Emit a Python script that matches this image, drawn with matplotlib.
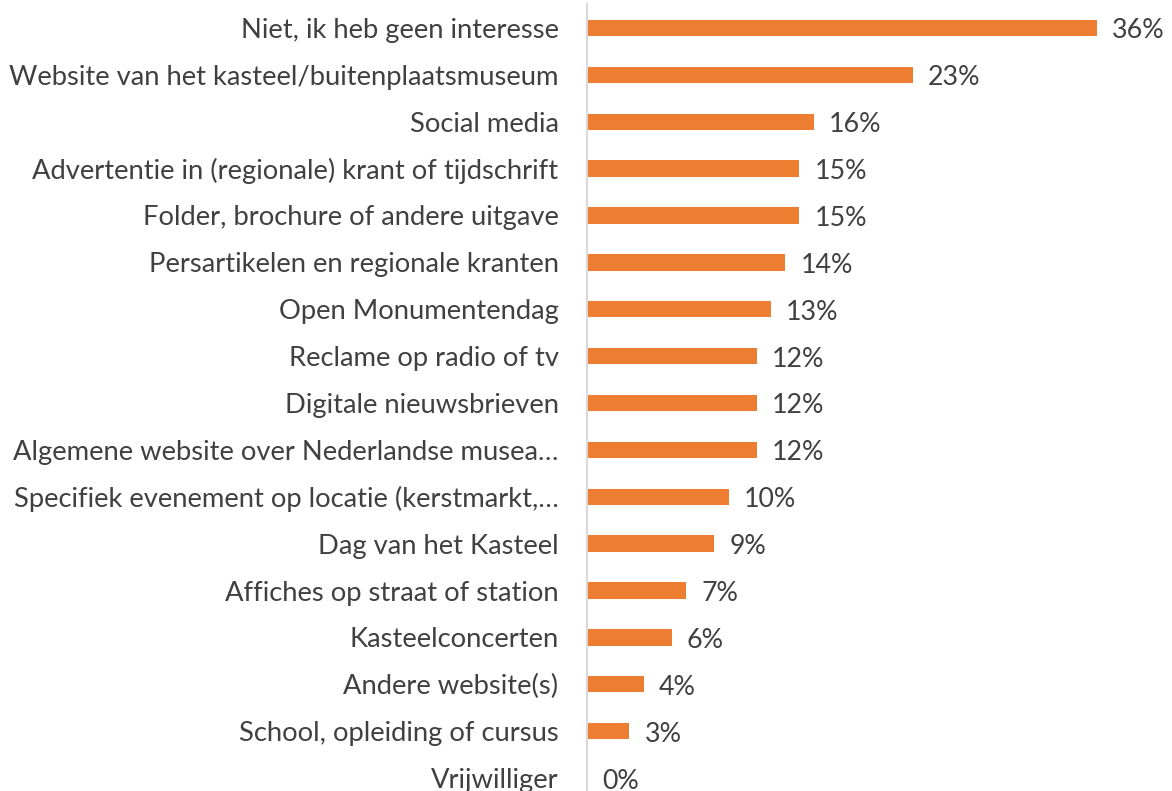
import matplotlib.pyplot as plt

categories = [
    "Niet, ik heb geen interesse",
    "Website van het kasteel/buitenplaatsmuseum",
    "Social media",
    "Advertentie in (regionale) krant of tijdschrift",
    "Folder, brochure of andere uitgave",
    "Persartikelen en regionale kranten",
    "Open Monumentendag",
    "Reclame op radio of tv",
    "Digitale nieuwsbrieven",
    "Algemene website over Nederlandse musea…",
    "Specifiek evenement op locatie (kerstmarkt,…",
    "Dag van het Kasteel",
    "Affiches op straat of station",
    "Kasteelconcerten",
    "Andere website(s)",
    "School, opleiding of cursus",
    "Vrijwilliger",
]
values = [36, 23, 16, 15, 15, 14, 13, 12, 12, 12, 10, 9, 7, 6, 4, 3, 0]

plt.rcParams['font.family'] = ['Lato', 'DejaVu Sans']

fig = plt.figure(figsize=(11.72, 7.91), dpi=100)
ax = fig.add_axes([587 / 1172, 1 - 801.5 / 791, 585 / 1172, 797 / 791])

y = list(range(len(categories)))
ax.barh(y, values, height=0.35, color='#ED7D31')
ax.set_ylim(len(categories) - 0.5, -0.5)
ax.set_xlim(0, 41.3)

# value labels, a bit below the bar centre like in the original
for yi, v in zip(y, values):
    ax.annotate(f"{v}%", (v, yi), xytext=(15, -3), textcoords='offset pixels',
                va='center', ha='left', fontsize=19.3, color='#404040')

ax.set_yticks(y)
ax.set_yticklabels(categories, fontsize=19.7, color='#404040')
ax.tick_params(axis='y', length=0, pad=20.5)
ax.set_xticks([])
for s in ['top', 'right', 'bottom']:
    ax.spines[s].set_visible(False)
ax.spines['left'].set_color('#D9D9D9')
ax.spines['left'].set_linewidth(1.5)

fig.savefig('out.png', dpi=100)
